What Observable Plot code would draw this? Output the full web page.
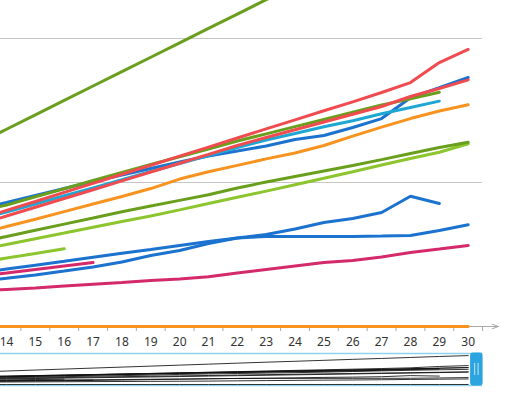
<!DOCTYPE html>
<html>
<head>
<meta charset="utf-8">
<script src="https://cdn.jsdelivr.net/npm/d3@7"></script>
<script src="https://cdn.jsdelivr.net/npm/@observablehq/plot@0.6"></script>
<style>
  html, body { margin: 0; padding: 0; background: #fff; overflow: hidden; }
  #chart svg { display: block; }
</style>
</head>
<body>
<div id="chart"></div>
<script>
// ---- data ----
const categories = [13,14,15,16,17,18,19,20,21,22,23,24,25,26,27,28,29,30];
const xTickLabels = [14,15,16,17,18,19,20,21,22,23,24,25,26,27,28,29,30];

const greenTop   = [127,137,147,157,167,177,187,197,207,217,227,236,246,256,265,275,285,294];
const redA       = [74.3,80.6,86.8,93.1,99.4,105.7,112,118.3,124.6,130.9,137.2,143.5,149.8,156,162.5,169.4,183.3,192.4];
const redB       = [70.8,76.7,82.8,88.9,95,101.1,107.3,113.4,119.5,125.7,131.3,136.6,142,147.4,152.8,159.7,165.3,171.3];
const greenMid   = [79.9,84.4,90.1,95.7,101.4,107,112.5,117.9,123.3,128.8,133.8,138.8,143.8,148.8,153.8,158.1,162.7,null];
const blueTop    = [81.6,86.1,91,95.8,100.7,105.2,109.7,114.2,118.4,121.9,125.3,129.9,132.6,138.2,144.4,158.9,165.8,172.9];
const cyan       = [74,79.5,85.1,90.8,96.3,101.9,107.6,113.2,118.8,124.3,129.5,134,138.7,142.9,147.7,152.1,156.5,null];
const orange     = [64.2,69.4,74.5,79.8,85.1,90.3,95.8,102.4,107.5,111.9,116.4,120.5,125.7,132.2,138.5,144.4,149.7,154];
const greenLow   = [58.3,62.5,66.8,71.1,75.3,79.7,83.7,87.6,91.5,96.2,100.3,104.2,108,111.8,115.9,120.1,124.3,128];
const limeLong   = [53.1,56.9,61,64.9,68.9,72.9,76.7,81,85.4,89.7,94,98.5,102.9,107.5,112.2,116.7,121,126.9];
const limeShort  = [44.4,47.5,50.7,54,null,null,null,null,null,null,null,null,null,null,null,null,null,null];
const pinkShort  = [34.7,37.1,39.6,42,44.4,null,null,null,null,null,null,null,null,null,null,null,null,null];
const blueFlat   = [37.2,39.9,42.6,45.3,48.1,50.8,53.5,56.3,59,61.5,62.5,62.5,62.5,62.5,62.8,63.2,66.7,70.6];
const blueWiggle = [31.3,33.5,35.8,38.5,41.3,44.8,49.3,52.8,57.6,61.5,63.9,67.7,72.2,75,79.2,90.5,85.4,null];
const pinkLong   = [24.7,25.7,26.7,28.1,29.4,30.6,31.9,33,34.5,37.2,39.6,42,44.4,45.8,48.3,51.4,53.8,56.3];
const orangeZero = [0,0,0,0,0,0,0,0,0,0,0,0,0,0,0,0,0,0];

const gridValues = [100, 200];

// ---- build table ----
const seriesList = [
  {name: "orangeZero", color: "#f7931e", values: orangeZero},
  {name: "pinkLong",   color: "#d42a6b", values: pinkLong},
  {name: "blueWiggle", color: "#1b72cf", values: blueWiggle},
  {name: "blueFlat",   color: "#1b72cf", values: blueFlat},
  {name: "pinkShort",  color: "#d42a6b", values: pinkShort},
  {name: "limeShort",  color: "#8cc52d", values: limeShort},
  {name: "limeLong",   color: "#8cc52d", values: limeLong},
  {name: "greenLow",   color: "#6a9f1d", values: greenLow},
  {name: "orange",     color: "#f7931e", values: orange},
  {name: "blueTop",    color: "#1b72cf", values: blueTop},
  {name: "cyan",       color: "#1fa7d4", values: cyan},
  {name: "greenMid",   color: "#6a9f1d", values: greenMid},
  {name: "redB",       color: "#f04b4f", values: redB},
  {name: "redA",       color: "#f04b4f", values: redA},
  {name: "greenTop",   color: "#6a9f1d", values: greenTop}
];
const rows = [];
for (const s of seriesList) {
  categories.forEach((c, i) => {
    if (s.values[i] != null) rows.push({series: s.name, color: s.color, cat: c, value: s.values[i]});
  });
}
const boundaries = xTickLabels.map(d => d + 0.5);

const xDomain = [13.792, 30.5];
const W = 517, marginRight = 34.9;

const main = Plot.plot({
  width: W, height: 350,
  marginTop: 0, marginLeft: 0, marginRight, marginBottom: 24,
  x: {domain: xDomain},
  y: {domain: [0, 226.4], axis: null},
  style: {fontFamily: "'Noto Sans', sans-serif", fontSize: "12px", color: "#333", background: "white"},
  marks: [
    Plot.ruleY(gridValues, {stroke: "#c6c6c6", strokeWidth: 1}),
    Plot.arrow([0], {x1: () => xDomain[0], x2: () => 31.05, y1: () => 0, y2: () => 0,
      stroke: "#aaaaaa", strokeWidth: 1, headLength: 10, headAngle: 40, clip: false}),
    Plot.axisX({ticks: boundaries, tickSize: 5, tickFormat: () => "", stroke: "#aaaaaa", label: null}),
    Plot.axisX({ticks: xTickLabels, tickSize: 0, tickPadding: 11, tickFormat: d => String(d),
      fill: "#333", fontSize: 12, label: null}),
    ...seriesList.map(s => Plot.line(rows.filter(r => r.series === s.name), {
      x: "cat", y: "value", stroke: s.color, strokeWidth: 3,
      strokeLinejoin: "miter", clip: s.name !== "orangeZero"
    }))
  ]
});

const miniY = [-10.2, 315.3];
const mini = Plot.plot({
  width: W, height: 43,
  marginTop: 3, marginBottom: 8, marginLeft: 0, marginRight,
  x: {domain: xDomain, axis: null},
  y: {domain: miniY, axis: null},
  style: {background: "white"},
  marks: [
    Plot.ruleY(miniY, {stroke: "#8fd1ee", strokeWidth: 1.5}),
    Plot.line(rows, {x: "cat", y: "value", z: "series", stroke: "#111", strokeWidth: 1, strokeOpacity: 0.85, clip: true})
  ]
});

// slider handle at the right edge of the window
const xs = mini.scale("x");
const hx = xs.apply(30.5);
const g = d3.select(mini).append("g");
g.append("rect").attr("x", hx - 12).attr("y", 2.5).attr("width", 12.5).attr("height", 33)
  .attr("rx", 3).attr("fill", "#2ba4df");
[hx - 7.5, hx - 4].forEach(px => {
  g.append("line").attr("x1", px).attr("x2", px).attr("y1", 13).attr("y2", 25)
    .attr("stroke", "#a9dcf3").attr("stroke-width", 1.2);
});

const root = document.getElementById("chart");
root.appendChild(main);
root.appendChild(mini);
</script>
</body>
</html>
